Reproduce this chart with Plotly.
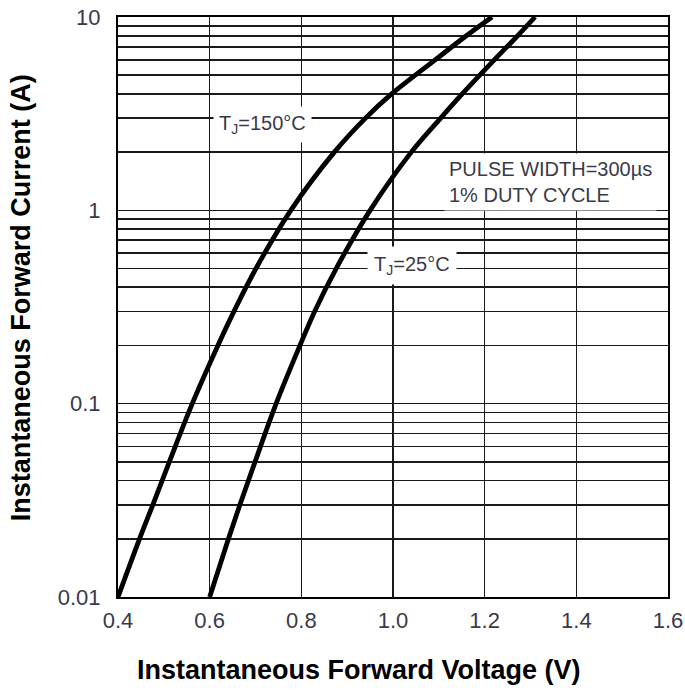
import math
import plotly.graph_objects as go

# Forward characteristic, TJ = 150 °C  (current A, voltage V)
i_150 = [0.01, 0.02, 0.03, 0.05, 0.10, 0.20, 0.30, 0.50, 1.0, 2.0, 3.0, 4.0, 6.0, 8.0, 10.0]
v_150 = [0.400, 0.447, 0.476, 0.512, 0.562, 0.618, 0.653, 0.701, 0.777, 0.872,
         0.940, 0.997, 1.092, 1.160, 1.216]

# Forward characteristic, TJ = 25 °C
i_25 = [0.01, 0.02, 0.03, 0.05, 0.10, 0.20, 0.30, 0.50, 1.0, 2.0, 3.0, 4.0, 6.0, 8.0, 10.0]
v_25 = [0.600, 0.641, 0.666, 0.699, 0.745, 0.797, 0.829, 0.876, 0.950, 1.040,
        1.104, 1.151, 1.221, 1.272, 1.310]

x_ticks = [0.4, 0.6, 0.8, 1.0, 1.2, 1.4, 1.6]
x_ticktext = ["0.4", "0.6", "0.8", "1.0", "1.2", "1.4", "1.6"]

y_ticks = [0.01, 0.1, 1, 10]
y_ticktext = ["0.01", "0.1", "1", "10"]
y_minor = [0.02, 0.03, 0.04, 0.05, 0.06, 0.07, 0.08, 0.09,
           0.2, 0.3, 0.4, 0.5, 0.6, 0.7, 0.8, 0.9,
           2, 3, 4, 5, 6, 7, 8, 9]

x_title = "Instantaneous Forward Voltage (V)"
y_title = "Instantaneous Forward Current (A)"
label_150 = "T<sub>J</sub>=150°C"
label_25 = "T<sub>J</sub>=25°C"
label_pulse = "PULSE WIDTH=300µs<br>1% DUTY CYCLE"

FONT = "Liberation Sans, Arial, sans-serif"
GRID = "#1a1a1a"
TICKCOL = "#3a3a48"

fig = go.Figure()
for v, i in ((v_150, i_150), (v_25, i_25)):
    fig.add_trace(go.Scatter(
        x=v, y=i, mode="lines",
        line=dict(color="black", width=4.8, shape="spline", smoothing=1.0),
        hoverinfo="skip",
    ))

fig.update_layout(
    width=685, height=690,
    margin=dict(l=118, r=17, t=17, b=93, autoexpand=False),
    plot_bgcolor="white", paper_bgcolor="white",
    showlegend=False,
    font=dict(family=FONT),
)

fig.update_xaxes(
    range=[0.4, 1.6], tickvals=x_ticks, ticktext=x_ticktext,
    showgrid=True, gridcolor=GRID, gridwidth=1.6,
    showline=True, linecolor="black", linewidth=2, mirror=True,
    zeroline=False, ticks="", ticklabelstandoff=3, automargin=False,
    ticklabeloverflow="allow",
    tickfont=dict(size=22, color=TICKCOL, family=FONT),
)
fig.update_yaxes(
    type="log", range=[-2, 1], tickvals=y_ticks, ticktext=y_ticktext,
    showgrid=True, gridcolor=GRID, gridwidth=1.6,
    minor=dict(tickvals=y_minor, showgrid=True, gridcolor=GRID, gridwidth=1.6, ticks=""),
    showline=True, linecolor="black", linewidth=2, mirror=True,
    zeroline=False, ticks="", ticklabelstandoff=11, automargin=False,
    ticklabeloverflow="allow",
    tickfont=dict(size=22, color=TICKCOL, family=FONT),
)

# Axis titles
fig.add_annotation(
    text="<b>" + x_title + "</b>", xref="paper", yref="paper",
    x=0.438, y=-0.126, xanchor="center", yanchor="middle", showarrow=False,
    font=dict(size=27, color="black", family=FONT),
)
fig.add_annotation(
    text="<b>" + y_title + "</b>", xref="paper", yref="paper",
    x=-0.176, y=0.5155, xanchor="center", yanchor="middle", showarrow=False,
    textangle=-90, font=dict(size=27, color="black", family=FONT),
)

# In-plot labels with white backgrounds (log axis -> log10 positions)
fig.add_annotation(
    text=label_150, x=0.716, y=math.log10(2.785), xref="x", yref="y",
    xanchor="center", yanchor="middle", showarrow=False,
    bgcolor="white", borderpad=5,
    font=dict(size=20, color=TICKCOL, family=FONT),
)
fig.add_annotation(
    text=label_25, x=1.0415, y=math.log10(0.519), xref="x", yref="y",
    xanchor="center", yanchor="middle", showarrow=False,
    bgcolor="white", borderpad=6,
    font=dict(size=20, color=TICKCOL, family=FONT),
)
fig.add_annotation(
    text=label_pulse, x=1.112, y=math.log10(1.40), xref="x", yref="y",
    xanchor="left", yanchor="middle", align="left", showarrow=False,
    bgcolor="white", borderpad=4,
    font=dict(size=20, color=TICKCOL, family=FONT),
)

# remove the default 8px page margin so the figure fills the window exactly
fig.write_html(
    "out.html",
    config={"displayModeBar": False, "staticPlot": True},
    post_script="document.body.style.margin='0';document.body.style.overflow='hidden';",
)
